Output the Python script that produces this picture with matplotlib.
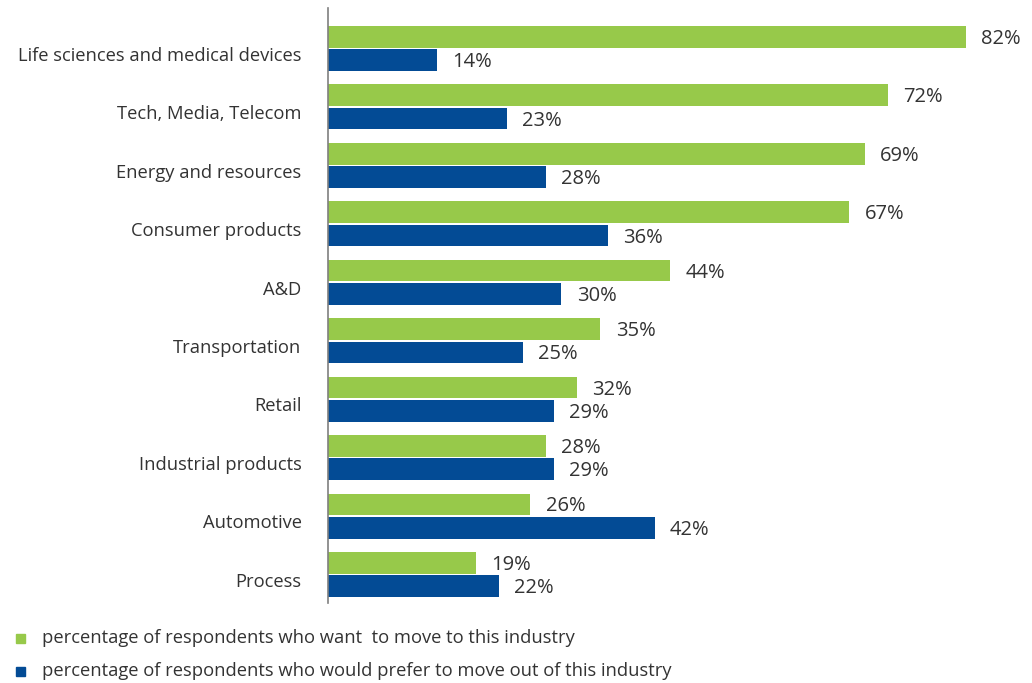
import matplotlib
matplotlib.use('Agg')
from matplotlib import pyplot as plt
from matplotlib.patches import Rectangle

# data
industries = ['Life sciences and medical devices', 'Tech, Media, Telecom',
              'Energy and resources', 'Consumer products', 'A&D',
              'Transportation', 'Retail', 'Industrial products',
              'Automotive', 'Process']
move_in = [82, 72, 69, 67, 44, 35, 32, 28, 26, 19]
move_out = [14, 23, 28, 36, 30, 25, 29, 29, 42, 22]
legend_labels = ['percentage of respondents who want  to move to this industry',
                 'percentage of respondents who would prefer to move out of this industry']

green = '#97C94A'
blue = '#034B95'
txt = '#333333'

plt.rcParams['font.family'] = ['Open Sans', 'DejaVu Sans']

W, H = 1032, 683
fig = plt.figure(figsize=(W / 100, H / 100), dpi=100)
ax = fig.add_axes([328 / W, 1 - 603 / H, 1 - 328 / W, (603 - 8) / H])

y = list(range(len(industries)))
h = 0.37
off = 0.2
ax.barh([i - off for i in y], move_in, height=h, color=green)
ax.barh([i + off for i in y], move_out, height=h, color=blue)

for i in y:
    ax.annotate('%d%%' % move_in[i], (move_in[i], i - off), xytext=(11, -1.5),
                textcoords='offset points', va='center', ha='left',
                fontsize=14.5, color=txt)
    ax.annotate('%d%%' % move_out[i], (move_out[i], i + off), xytext=(11, -1.5),
                textcoords='offset points', va='center', ha='left',
                fontsize=14.5, color=txt)

ax.set_xlim(0, (W - 328) / 7.78)
ax.set_ylim(9 + 0.488, -0.693)
ax.set_yticks([i + 0.09 for i in y])
ax.set_yticklabels(industries, fontsize=13.2, color=txt)
ax.tick_params(axis='y', length=0, pad=19)
ax.set_xticks([])
for s in ['top', 'right', 'bottom']:
    ax.spines[s].set_visible(False)
ax.spines['left'].set_color('#7f7f7f')
ax.spines['left'].set_linewidth(1.2)

# legend
for k, (lab, c) in enumerate(zip(legend_labels, [green, blue])):
    yc = 638 + k * 33
    fig.patches.append(Rectangle((16 / W, 1 - (yc + 4.5) / H), 9 / W, 9 / H,
                                 transform=fig.transFigure, color=c))
    fig.text(42 / W, 1 - yc / H, lab, fontsize=13.2, color=txt, va='center', ha='left')

fig.savefig('out.png', dpi=100)
